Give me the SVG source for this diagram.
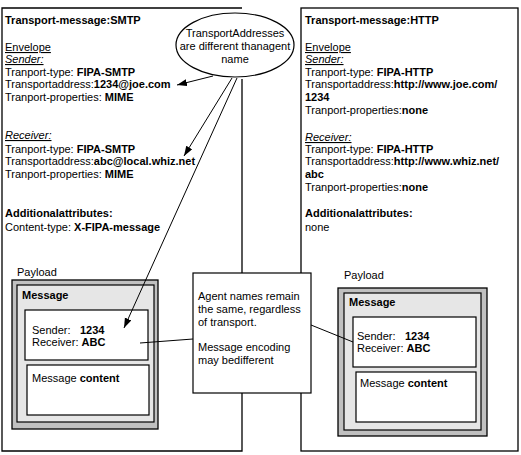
<svg xmlns="http://www.w3.org/2000/svg" width="521" height="455" viewBox="0 0 521 455">
<style>
text{font-family:"Liberation Sans",Arial,Helvetica,sans-serif;font-size:11px;fill:#000}
.b{font-weight:bold}
.u{text-decoration:underline}
.i{font-style:italic}
.frame{fill:none;stroke:#000;stroke-width:1.3}
.wbox{fill:#fff;stroke:#000;stroke-width:1.2}
.grey{fill:#c0c0c0;stroke:#000;stroke-width:1.3}
.light{fill:#e6e6e6;stroke:#000;stroke-width:1.2}
.con{fill:none;stroke:#000;stroke-width:1}
</style>
<defs>
<marker id="ah" markerUnits="userSpaceOnUse" markerWidth="11" markerHeight="8" refX="10" refY="3.5" orient="auto">
<path d="M0,0 L10,3.5 L0,7 z" fill="#000"/>
</marker>
</defs>

<g id="smtp">
<path class="frame" d="M242,79 V451 H2 V8 H242"/>
<text x="5" y="24" class="b">Transport-message:SMTP</text>
<text x="5" y="51" class="u">Envelope</text>
<text x="5" y="63" class="i u">Sender:</text>
<text x="5" y="76">Tranport-type: <tspan class="b">FIPA-SMTP</tspan></text>
<text x="5" y="88">Transportaddress:<tspan class="b">1234@joe.com</tspan></text>
<text x="5" y="101">Tranport-properties: <tspan class="b">MIME</tspan></text>
<text x="5" y="139" class="i u">Receiver:</text>
<text x="5" y="153">Tranport-type: <tspan class="b">FIPA-SMTP</tspan></text>
<text x="5" y="165">Transportaddress:<tspan class="b">abc@local.whiz.net</tspan></text>
<text x="5" y="178">Tranport-properties: <tspan class="b">MIME</tspan></text>
<text x="5" y="217" class="b">Additionalattributes:</text>
<text x="5" y="231">Content-type: <tspan class="b">X-FIPA-message</tspan></text>
</g>

<g id="smtp-payload">
<text x="17" y="276">Payload</text>
<rect class="grey" x="12" y="280" width="146" height="149"/>
<rect class="light" x="17" y="285" width="137" height="137"/>
<text x="22" y="299" class="b">Message</text>
<rect class="wbox" x="25" y="310" width="123" height="50"/>
<text x="32" y="334">Sender: <tspan x="80" class="b">1234</tspan></text>
<text x="32" y="346">Receiver: <tspan class="b">ABC</tspan></text>
<rect class="wbox" x="27" y="365" width="122" height="50"/>
<text x="32" y="382">Message <tspan class="b">content</tspan></text>
</g>

<g id="http">
<rect class="frame" x="301" y="8" width="217" height="443"/>
<text x="305" y="24" class="b">Transport-message:HTTP</text>
<text x="305" y="51" class="u">Envelope</text>
<text x="305" y="63" class="i u">Sender:</text>
<text x="305" y="76">Tranport-type: <tspan class="b">FIPA-HTTP</tspan></text>
<text x="305" y="88">Transportaddress:<tspan class="b">http://www.joe.com/</tspan></text>
<text x="305" y="101" class="b">1234</text>
<text x="305" y="114">Tranport-properties:<tspan class="b">none</tspan></text>
<text x="305" y="141" class="i u">Receiver:</text>
<text x="305" y="153">Tranport-type: <tspan class="b">FIPA-HTTP</tspan></text>
<text x="305" y="165">Transportaddress:<tspan class="b">http://www.whiz.net/</tspan></text>
<text x="305" y="178" class="b">abc</text>
<text x="305" y="191">Tranport-properties:<tspan class="b">none</tspan></text>
<text x="305" y="217" class="b">Additionalattributes:</text>
<text x="305" y="231">none</text>
</g>

<g id="http-payload">
<text x="344" y="279">Payload</text>
<rect class="grey" x="338" y="288" width="149" height="148"/>
<rect class="light" x="344" y="293" width="137" height="137"/>
<text x="349" y="306" class="b">Message</text>
<rect class="wbox" x="353" y="317" width="123" height="50"/>
<text x="357" y="340">Sender: <tspan x="405" class="b">1234</tspan></text>
<text x="357" y="352">Receiver: <tspan class="b">ABC</tspan></text>
<rect class="wbox" x="356" y="372" width="120" height="50"/>
<text x="360" y="387">Message <tspan class="b">content</tspan></text>
</g>

<g id="connectors">
<line class="con" x1="213" y1="76" x2="177" y2="85" marker-end="url(#ah)"/>
<line class="con" x1="232" y1="78" x2="184" y2="156" marker-end="url(#ah)"/>
<line class="con" x1="237" y1="78" x2="124" y2="328" marker-end="url(#ah)"/>
<line class="con" x1="140" y1="343" x2="193" y2="339"/>
<line class="con" x1="311" y1="325" x2="353" y2="342"/>
</g>

<g id="note-ellipse">
<ellipse cx="235" cy="45" rx="59" ry="32" fill="#fff" stroke="#000" stroke-width="1.2"/>
<text x="235" y="37" text-anchor="middle">TransportAddresses</text>
<text x="235" y="50" text-anchor="middle">are different thanagent</text>
<text x="235" y="63" text-anchor="middle">name</text>
</g>

<g id="note-box">
<rect class="wbox" x="193" y="273" width="118" height="120"/>
<text x="198" y="300">Agent names remain</text>
<text x="198" y="313">the same, regardless</text>
<text x="198" y="326">of transport.</text>
<text x="198" y="351">Message encoding</text>
<text x="198" y="364">may bedifferent</text>
</g>
</svg>
